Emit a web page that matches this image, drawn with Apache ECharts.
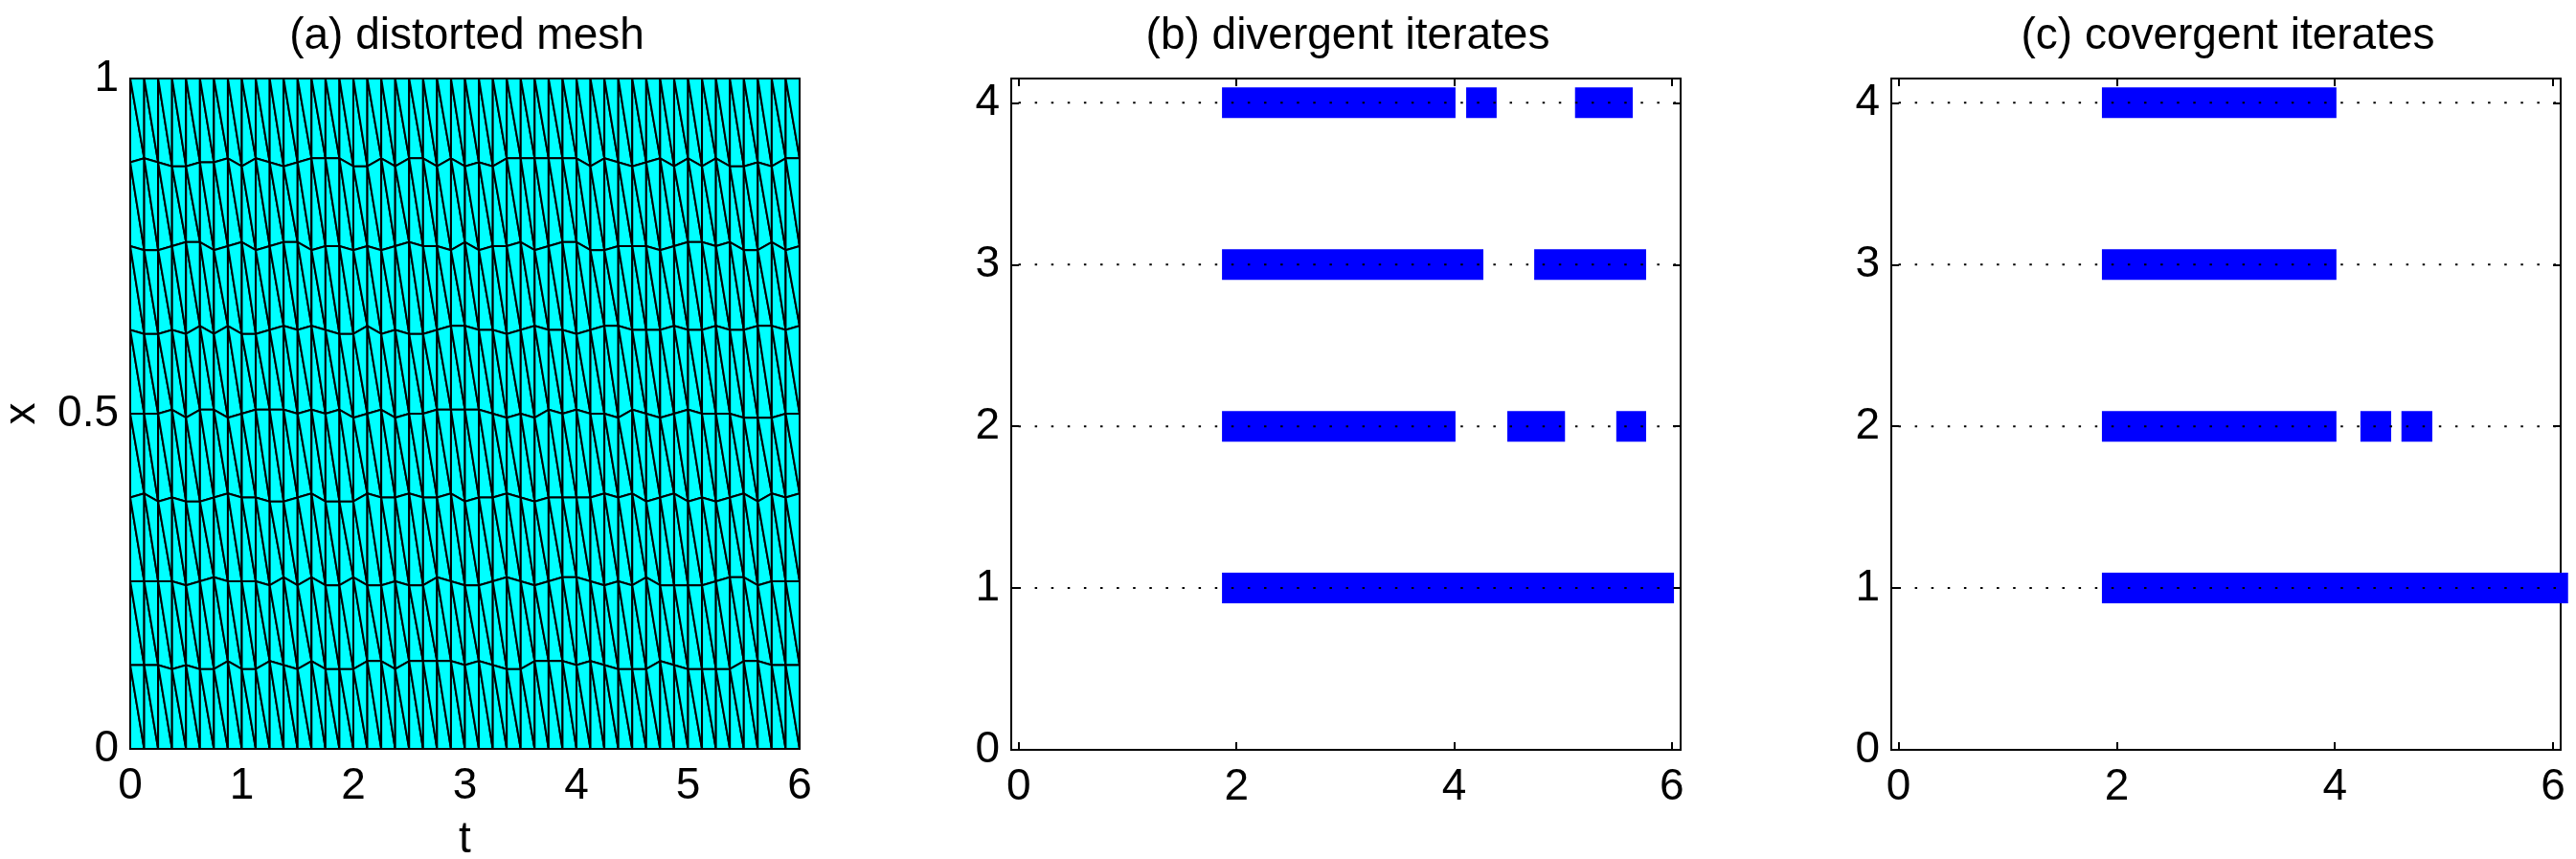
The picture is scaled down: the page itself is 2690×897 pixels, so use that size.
<!DOCTYPE html>
<html>
<head>
<meta charset="utf-8">
<title>Waveform relaxation on a distorted mesh</title>
<script src="https://cdn.jsdelivr.net/npm/echarts@6/dist/echarts.min.js"></script>
<style>
  html, body { margin: 0; padding: 0; background: #fff; }
  #chart { width: 2690px; height: 897px; }
</style>
</head>
<body>
<div id="chart"></div>
<script>
// Panel titles
const titleMesh = '(a) distorted mesh';
const titleDivergent = '(b) divergent iterates';
const titleConvergent = '(c) covergent iterates';

// Mesh time nodes
const meshTimes = [
  0, .125, .25, .375, .5, .625, .75, .875, 1, 1.125,
  1.25, 1.375, 1.5, 1.625, 1.75, 1.875, 2, 2.125, 2.25, 2.375,
  2.5, 2.625, 2.75, 2.875, 3, 3.125, 3.25, 3.375, 3.5, 3.625,
  3.75, 3.875, 4, 4.125, 4.25, 4.375, 4.5, 4.625, 4.75, 4.875,
  5, 5.125, 5.25, 5.375, 5.5, 5.625, 5.75, 5.875, 6
];

// Interior mesh lines: the x position of each line at every time node
const meshLine875 = [
  .875,.881,.875,.869,.869,.875,.875,.881,.869,.881,
  .875,.869,.875,.881,.881,.881,.869,.869,.881,.869,
  .881,.881,.869,.881,.869,.875,.869,.881,.881,.881,
  .881,.881,.881,.869,.881,.875,.869,.875,.881,.869,
  .881,.869,.881,.869,.869,.875,.869,.881,.881
];
const meshLine750 = [
  .750,.744,.744,.750,.756,.756,.744,.750,.756,.744,
  .750,.756,.756,.744,.750,.750,.744,.750,.744,.750,
  .756,.750,.750,.744,.756,.744,.750,.750,.756,.744,
  .750,.756,.756,.744,.744,.750,.750,.750,.744,.750,
  .756,.756,.750,.756,.744,.744,.756,.744,.750
];
const meshLine625 = [
  .625,.619,.619,.625,.619,.631,.619,.631,.619,.619,
  .625,.631,.625,.631,.625,.619,.619,.631,.619,.625,
  .619,.619,.625,.631,.631,.625,.625,.619,.625,.631,
  .625,.625,.619,.625,.631,.631,.625,.625,.625,.631,
  .625,.625,.631,.625,.625,.631,.631,.625,.631
];
const meshLine500 = [
  .500,.500,.500,.506,.494,.506,.506,.494,.500,.506,
  .506,.506,.500,.506,.500,.506,.494,.500,.506,.494,
  .500,.500,.506,.506,.506,.506,.500,.494,.500,.494,
  .506,.500,.506,.500,.500,.494,.506,.500,.494,.500,
  .506,.500,.500,.500,.494,.494,.494,.500,.500
];
const meshLine375 = [
  .375,.381,.369,.375,.369,.369,.375,.381,.375,.375,
  .369,.369,.375,.381,.369,.369,.369,.381,.375,.375,
  .381,.375,.375,.381,.369,.375,.375,.381,.375,.369,
  .375,.375,.375,.375,.381,.375,.381,.369,.375,.381,
  .369,.375,.369,.375,.381,.369,.381,.375,.381
];
const meshLine250 = [
  .250,.250,.250,.250,.244,.250,.256,.250,.250,.250,
  .244,.256,.244,.256,.244,.244,.256,.244,.244,.250,
  .244,.244,.256,.250,.244,.244,.250,.256,.250,.244,
  .250,.256,.256,.250,.244,.250,.244,.256,.244,.244,
  .244,.244,.250,.256,.256,.244,.250,.250,.250
];
const meshLine125 = [
  .125,.125,.125,.119,.125,.119,.119,.131,.119,.119,
  .131,.125,.119,.131,.119,.119,.119,.131,.131,.119,
  .131,.131,.131,.131,.125,.131,.125,.119,.119,.131,
  .131,.131,.125,.131,.125,.119,.119,.119,.131,.125,
  .119,.119,.119,.119,.131,.131,.125,.125,.125
];

// Axis ticks
const meshTimeTicks = [0, 1, 2, 3, 4, 5, 6];
const meshSpaceTicks = [0, 0.5, 1];
const iterateTimeTicks = [0, 2, 4, 6];
const iterateSubdomainTicks = [0, 1, 2, 3, 4];
const subdomainRows = [1, 2, 3, 4];

// Time intervals [start, end] marked for each subdomain
const divergentRow1 = [[1.867, 6.019]];
const divergentRow2 = [[1.867, 4.012], [4.488, 5.018], [5.489, 5.763]];
const divergentRow3 = [[1.867, 4.268], [4.735, 5.763]];
const divergentRow4 = [[1.867, 4.012], [4.11, 4.39], [5.11, 5.64]];

const convergentRow1 = [[1.864, 6.138]];
const convergentRow2 = [[1.864, 4.014], [4.234, 4.516], [4.61, 4.893]];
const convergentRow3 = [[1.864, 4.014]];
const convergentRow4 = [[1.864, 4.014]];

const FONT = '"Liberation Sans", Arial, Helvetica, sans-serif';
const FONT_SIZE = 46;
const BAND_HALF_HEIGHT = 0.0945;
const TIME_RANGE = [-0.069, 6.08];
const CONV_TIME_RANGE = [-0.067, 6.07];
const ROW_MAX = 4.15;

const panels = [
  { left: 136, width: 699, height: 700 },
  { left: 1056, width: 699, height: 701 },
  { left: 1975, width: 699, height: 701 }
];

const grids = panels.map(p => ({
  left: p.left, top: 82, width: p.width, height: p.height,
  show: true, borderColor: '#000', borderWidth: 2, backgroundColor: 'transparent',
  containLabel: false,
  outerBoundsMode: 'none'
}));

const titles = [titleMesh, titleDivergent, titleConvergent].map((text, i) => ({
  text,
  left: panels[i].left + panels[i].width / 2 - 3,
  top: 10,
  textAlign: 'center',
  textStyle: { fontFamily: FONT, fontSize: FONT_SIZE, fontWeight: 'normal', color: '#000' }
}));

function labelledAxis(base, ticks, showTick, labelExtra) {
  return Object.assign({
    type: 'value',
    splitLine: { show: false },
    axisLine: { show: true, onZero: false, lineStyle: { color: '#000', width: 2 } },
    axisTick: { show: showTick, inside: true, length: 8, customValues: ticks, lineStyle: { color: '#000', width: 2 } },
    axisLabel: Object.assign({
      customValues: ticks, color: '#000',
      fontFamily: FONT, fontSize: FONT_SIZE, hideOverlap: false
    }, labelExtra)
  }, base);
}
const xLabel = { margin: 16 };
const yLabel = { margin: 12, padding: [10, 0, 0, 0] };

function mirrorAxis(base, ticks, showTick) {
  return Object.assign({
    type: 'value',
    splitLine: { show: false },
    axisLine: { show: true, onZero: false, lineStyle: { color: '#000', width: 2 } },
    axisTick: { show: showTick, inside: true, length: 8, customValues: ticks, lineStyle: { color: '#000', width: 2 } },
    axisLabel: { show: false }
  }, base);
}

const nameStyle = { fontFamily: FONT, fontSize: FONT_SIZE, color: '#000' };

const xAxes = [
  labelledAxis({ gridIndex: 0, min: 0, max: 6, position: 'bottom', name: 't', nameLocation: 'middle', nameGap: 72, nameTextStyle: nameStyle }, meshTimeTicks, false, xLabel),
  mirrorAxis({ gridIndex: 0, min: 0, max: 6, position: 'top' }, meshTimeTicks, false),
  labelledAxis({ gridIndex: 1, min: TIME_RANGE[0], max: TIME_RANGE[1], position: 'bottom' }, iterateTimeTicks, true, xLabel),
  mirrorAxis({ gridIndex: 1, min: TIME_RANGE[0], max: TIME_RANGE[1], position: 'top' }, iterateTimeTicks, true),
  labelledAxis({ gridIndex: 2, min: CONV_TIME_RANGE[0], max: CONV_TIME_RANGE[1], position: 'bottom' }, iterateTimeTicks, true, xLabel),
  mirrorAxis({ gridIndex: 2, min: CONV_TIME_RANGE[0], max: CONV_TIME_RANGE[1], position: 'top' }, iterateTimeTicks, true)
];
const yAxes = [
  labelledAxis({ gridIndex: 0, min: 0, max: 1, position: 'left', name: 'x', nameLocation: 'middle', nameGap: 90, nameRotate: 90, nameTextStyle: nameStyle }, meshSpaceTicks, false, yLabel),
  mirrorAxis({ gridIndex: 0, min: 0, max: 1, position: 'right' }, meshSpaceTicks, false),
  labelledAxis({ gridIndex: 1, min: 0, max: ROW_MAX, position: 'left' }, iterateSubdomainTicks, true, yLabel),
  mirrorAxis({ gridIndex: 1, min: 0, max: ROW_MAX, position: 'right' }, iterateSubdomainTicks, true),
  labelledAxis({ gridIndex: 2, min: 0, max: ROW_MAX, position: 'left' }, iterateSubdomainTicks, true, yLabel),
  mirrorAxis({ gridIndex: 2, min: 0, max: ROW_MAX, position: 'right' }, iterateSubdomainTicks, true)
];

// Triangles of the space-time mesh: each cell is split along the diagonal
// running from its upper-left node to its lower-right node.
const meshRows = [
  meshTimes.map(() => 1), meshLine875, meshLine750, meshLine625,
  meshLine500, meshLine375, meshLine250, meshLine125, meshTimes.map(() => 0)
];
const triangles = [];
for (let r = 0; r + 1 < meshRows.length; r++) {
  const up = meshRows[r], lo = meshRows[r + 1];
  for (let i = 0; i + 1 < meshTimes.length; i++) {
    const t0 = meshTimes[i], t1 = meshTimes[i + 1];
    triangles.push([t0, up[i], t0, lo[i], t1, lo[i + 1]]);
    triangles.push([t0, up[i], t1, up[i + 1], t1, lo[i + 1]]);
  }
}

const meshSeries = {
  type: 'custom',
  xAxisIndex: 0, yAxisIndex: 0,
  silent: true,
  z: 2,
  encode: { x: [0, 2, 4], y: [1, 3, 5] },
  data: triangles,
  renderItem(params, api) {
    const pts = [0, 2, 4].map(k => api.coord([api.value(k), api.value(k + 1)]));
    return {
      type: 'polygon',
      shape: { points: pts },
      style: { fill: '#00ffff', stroke: '#000', lineWidth: 2, lineJoin: 'round' }
    };
  }
};

function bandSeries(rows, axisIndex) {
  const data = [];
  rows.forEach((segments, k) => {
    segments.forEach(seg => data.push([seg[0], seg[1], subdomainRows[k]]));
  });
  return {
    type: 'custom',
    xAxisIndex: axisIndex, yAxisIndex: axisIndex,
    silent: true,
    clip: false,
    z: 3,
    encode: { x: [0, 1], y: 2 },
    data,
    renderItem(params, api) {
      const a = api.coord([api.value(0), api.value(2) + BAND_HALF_HEIGHT]);
      const b = api.coord([api.value(1), api.value(2) - BAND_HALF_HEIGHT]);
      return {
        type: 'rect',
        shape: { x: a[0], y: a[1], width: b[0] - a[0], height: b[1] - a[1] },
        style: { fill: '#0000ff' }
      };
    }
  };
}

// Dotted reference lines at each subdomain, drawn over the bands
function dottedRows(range, axisIndex) {
  return subdomainRows.map(row => ({
    type: 'line',
    xAxisIndex: axisIndex, yAxisIndex: axisIndex,
    silent: true,
    clip: false,
    z: 4,
    showSymbol: false,
    lineStyle: { color: '#000', width: 2, type: [2.5, 14.6], dashOffset: 9.6, cap: 'butt' },
    data: [[range[0], row], [range[1], row]]
  }));
}

const chart = echarts.init(document.getElementById('chart'), null, { renderer: 'canvas' });
chart.setOption({
  animation: false,
  backgroundColor: '#fff',
  title: titles,
  grid: grids,
  xAxis: xAxes,
  yAxis: yAxes,
  series: [
    meshSeries,
    bandSeries([divergentRow1, divergentRow2, divergentRow3, divergentRow4], 2),
    ...dottedRows(TIME_RANGE, 2),
    bandSeries([convergentRow1, convergentRow2, convergentRow3, convergentRow4], 4),
    ...dottedRows(CONV_TIME_RANGE, 4)
  ]
});
</script>
</body>
</html>
